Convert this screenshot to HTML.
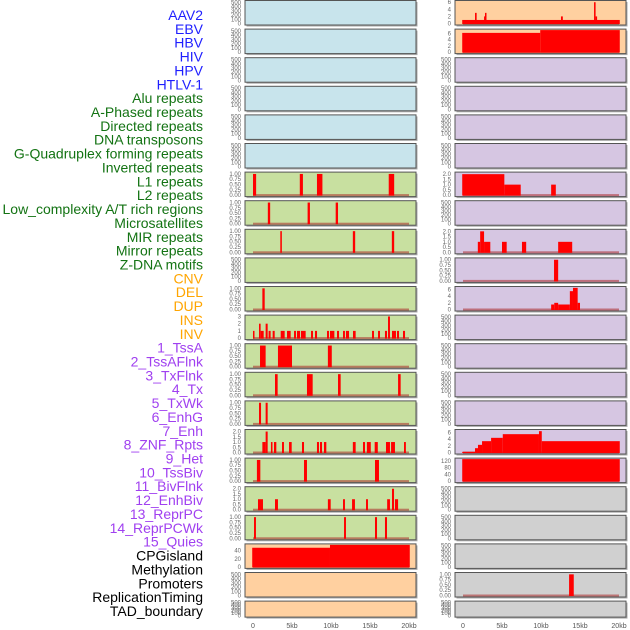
<!DOCTYPE html>
<html><head><meta charset="utf-8"><style>
body{margin:0;background:#fff;}
svg{display:block;font-family:"Liberation Sans",sans-serif;}
</style></head><body>
<svg id="chart" width="630" height="630" viewBox="0 0 630 630"></svg>
<script>
const labels = ["AAV2","EBV","HBV","HIV","HPV","HTLV-1","Alu repeats","A-Phased repeats","Directed repeats","DNA transposons","G-Quadruplex forming repeats","Inverted repeats","L1 repeats","L2 repeats","Low_complexity A/T rich regions","Microsatellites","MIR repeats","Mirror repeats","Z-DNA motifs","CNV","DEL","DUP","INS","INV","1_TssA","2_TssAFlnk","3_TxFlnk","4_Tx","5_TxWk","6_EnhG","7_Enh","8_ZNF_Rpts","9_Het","10_TssBiv","11_BivFlnk","12_EnhBiv","13_ReprPC","14_ReprPCWk","15_Quies","CPGisland","Methylation","Promoters","ReplicationTiming","TAD_boundary"];
const labelGroups = ["v","v","v","v","v","v","r","r","r","r","r","r","r","r","r","r","r","r","r","s","s","s","s","s","c","c","c","c","c","c","c","c","c","c","c","c","c","c","c","o","o","o","o","o"];
const xTicks = [0,5,10,15,20];
const xTickLabels = ["0","5kb","10kb","15kb","20kb"];
// segments: [start kb, end kb, value]
const segL6 = [[0,0.4,1],[6.0,6.4,1],[8.2,8.9,1],[17.4,18.1,1]];
const segL7 = [[1.9,2.2,1],[7.0,7.3,1],[10.6,10.9,1]];
const segL8 = [[3.5,3.7,1],[12.8,13.1,1],[17.8,18.1,1]];
const segL10 = [[1.2,1.5,1]];
const segL11 = [[0,0.1,1],[0.77,0.98,2],[0.98,1.37,1],[1.62,1.88,2],[2.0,2.26,1],[2.52,2.78,1],[3.55,4.06,1],[4.36,4.83,1],[5.26,5.51,1],[5.64,6.03,1],[6.15,6.75,1],[7.44,7.69,1],[7.95,8.21,1],[9.49,9.74,1],[9.87,10.43,1],[10.77,11.03,1],[11.54,11.79,1],[11.92,12.31,1],[12.82,13.16,1],[15.26,15.51,1],[16.03,16.28,1],[16.92,17.18,1],[17.31,17.56,3],[17.82,18.33,1],[18.46,18.72,1],[19.23,19.49,1]];
const segL12 = [[0.9,1.62,1],[3.2,5.0,1],[9.6,10.1,1]];
const segL13 = [[2.82,3.16,1],[6.92,7.65,1],[10.9,11.24,1],[18.6,18.93,1]];
const segL14 = [[0.77,1.03,1],[1.62,1.88,1]];
const segL15 = [[1.2,1.62,1],[1.62,1.88,2],[2.3,2.5,1],[2.69,2.99,1],[3.72,3.97,1],[4.62,4.96,1],[6.28,6.54,1],[8.2,8.46,1],[8.59,8.85,1],[9.1,9.4,1],[12.8,13.16,1],[14.1,14.36,1],[14.6,15.1,1],[15.6,16.0,1],[17.05,17.56,1],[17.7,18.2,1],[19.36,19.6,1]];
const segL16 = [[0.5,0.94,1],[6.54,6.92,1],[15.64,16.15,1]];
const segL17 = [[0.64,1.28,1],[2.82,3.2,1],[9.6,9.96,1],[11.54,11.79,1],[12.7,13.07,1],[14.49,14.74,1],[17.2,17.56,1],[17.82,18.08,2],[18.2,18.6,1]];
const segL18 = [[0.13,0.38,1],[11.67,11.92,1],[15.64,15.9,1],[16.92,17.18,1]];
const segL19 = [[-0.1,9.87,47],[9.87,20.1,54]];
const segR0 = [[-0.1,20.1,1],[1.54,1.75,3],[2.7,2.82,2],[2.82,2.95,3],[12.56,12.8,2],[16.8,17.0,6],[17.0,17.1,2]];
const segR1 = [[-0.1,9.9,6.2],[9.9,20.1,7.1]];
const segR6 = [[-0.1,5.3,2],[5.3,7.4,1],[11.3,11.9,1]];
const segR8 = [[1.9,2.2,1],[2.2,2.7,2],[2.7,3.5,1],[5.0,5.6,1],[7.56,8.1,1],[12.2,14.0,1]];
const segR9 = [[11.67,12.2,1]];
const segR10 = [[11.3,11.7,1.5],[11.7,12.2,2],[12.2,13.7,1.5],[13.7,14.1,5.5],[14.1,14.7,6.5],[14.7,15.0,2]];
const segR15 = [[-0.1,1.54,0.2],[1.54,1.92,1.3],[1.92,2.44,2.3],[2.44,3.6,3.4],[3.6,5.1,4.4],[5.1,9.74,5.5],[9.74,10.1,6.4],[10.1,20.1,3.4]];
const segR16 = [[-0.1,20.1,130]];
const segR20 = [[13.6,14.2,1]];

const T1 = [[0,"0.00"],[0.25,"0.25"],[0.5,"0.50"],[0.75,"0.75"],[1,"1.00"]];
const T2 = [[0,"0.0"],[0.5,"0.5"],[1,"1.0"],[1.5,"1.5"],[2,"2.0"]];
const TE = [[0,"0"],[100,"100"],[200,"200"],[300,"300"],[400,"400"],[500,"500"]];
const T3 = [[0,"0"],[1,"1"],[2,"2"],[3,"3"]];
const T6 = [[0,"0"],[2,"2"],[4,"4"],[6,"6"]];
const T50 = [[0,"0"],[20,"20"],[40,"40"]];
const T120 = [[0,"0"],[40,"40"],[80,"80"],[120,"120"]];

const BL="#c8e4ec",GR="#c8e0a0",OR="#ffd0a0",PU="#d6c6e2",GY="#d0d0d0";
const leftCol = [
 [BL,520,TE,null],[BL,520,TE,null],[BL,520,TE,null],[BL,520,TE,null],[BL,520,TE,null],[BL,520,TE,null],
 [GR,1.04,T1,segL6],[GR,1.04,T1,segL7],[GR,1.04,T1,segL8],[GR,520,TE,null],[GR,1.04,T1,segL10],[GR,3.05,T3,segL11],
 [GR,1.04,T1,segL12],[GR,1.04,T1,segL13],[GR,1.04,T1,segL14],[GR,2.1,T2,segL15],[GR,1.04,T1,segL16],[GR,2.1,T2,segL17],
 [GR,1.04,T1,segL18],[OR,54,T50,segL19],[OR,520,TE,null],[OR,520,TE,null]];
const rightCol = [
 [OR,6.2,T6,segR0],[OR,7.1,T6,segR1],[PU,520,TE,null],[PU,520,TE,null],[PU,520,TE,null],[PU,520,TE,null],
 [PU,2.1,T2,segR6],[PU,520,TE,null],[PU,2.1,T2,segR8],[PU,1.04,T1,segR9],[PU,6.6,T6,segR10],[PU,520,TE,null],
 [PU,520,TE,null],[PU,520,TE,null],[PU,520,TE,null],[PU,6.6,T6,segR15],[PU,130,T120,segR16],[GY,520,TE,null],
 [GY,520,TE,null],[GY,520,TE,null],[GY,1.04,T1,segR20],[GY,520,TE,null]];

const NS="http://www.w3.org/2000/svg";
const svg=document.getElementById("chart");
function mk(tag,attrs,parent){const e=document.createElementNS(NS,tag);for(const k in attrs)e.setAttribute(k,attrs[k]);(parent||svg).appendChild(e);return e;}

const groupColor={v:"#1f1fff",r:"#137313",s:"#ffa500",c:"#a040f0",o:"#000000"};
labels.forEach((t,i)=>{
  const e=mk("text",{x:203,y:20+i*13.86,"text-anchor":"end","font-size":"14",fill:groupColor[labelGroups[i]]});
  e.textContent=t;
  
  
});

function drawPanel(colIdx,rowIdx,spec){
  const [fill,ymax,ticks,segs]=spec;
  const px0=colIdx===0?245:455, pw=171;
  const top=rowIdx*28.6+0.5, h=rowIdx===21?16:24.5;
  const g=mk("g",{});
  
  
  mk("rect",{x:px0+1.5,y:top+1.5,width:pw,height:h,fill:"#aaa"},g);
  mk("rect",{x:px0,y:top,width:pw,height:h,fill:fill,stroke:"#555","stroke-width":1},g);
  const xs=v=>(colIdx===0?253:463)+v*7.8;
  const yb=top+h-1.5, yt=top+1;
  const ys=v=>yb-(v/ymax)*(yb-yt);
  ticks.forEach(([v,l])=>{
    const t=mk("text",{x:px0-4,y:ys(v)+2,"text-anchor":"end","font-size":"6",fill:"#666"},g);
    t.textContent=l;
    
    
  });
  if(segs){
    mk("rect",{x:xs(0),y:yb-1,width:xs(20)-xs(0),height:2,fill:"rgba(170,40,40,0.55)"},g);
    segs.forEach(([s,e,v])=>{
      const w=Math.max(1.5,xs(e)-xs(s));
      const r=mk("rect",{x:xs(s),y:ys(v),width:w,height:Math.max(0,yb+0.5-ys(v)),fill:"#ff0000"},g);
      
      
    });
  }
}
leftCol.forEach((s,i)=>drawPanel(0,i,s));
rightCol.forEach((s,i)=>drawPanel(1,i,s));

[0,1].forEach(c=>{
  xTicks.forEach((v,i)=>{
    const t=mk("text",{x:(c===0?253:463)+v*7.8,y:628,"text-anchor":"middle","font-size":"7",fill:"#555"});
    t.textContent=xTickLabels[i];
    
    
  });
});
</script>
</body></html>
